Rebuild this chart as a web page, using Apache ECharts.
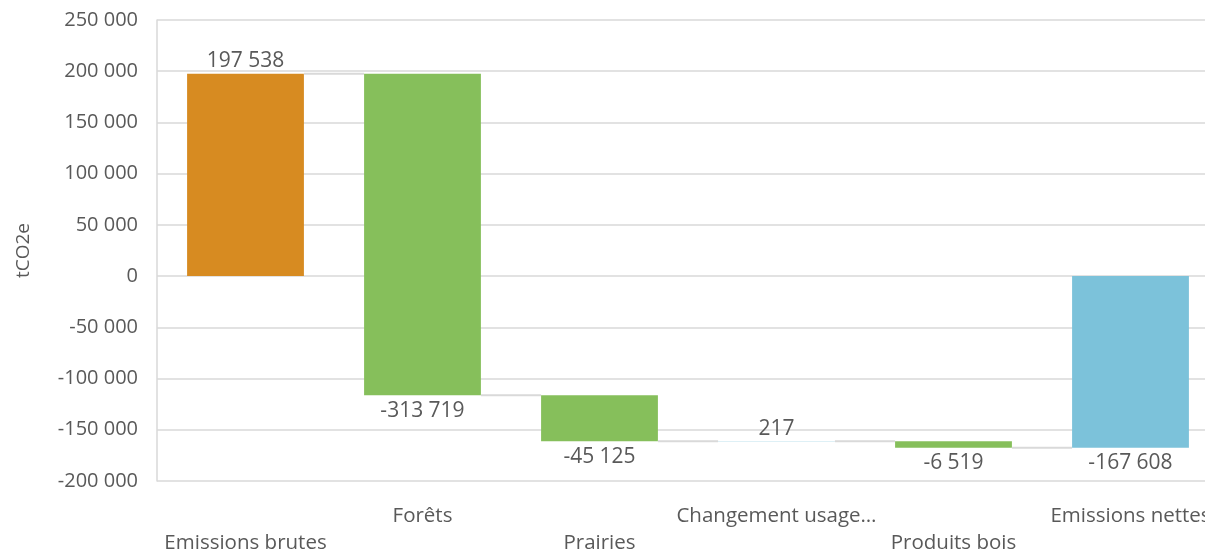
<!DOCTYPE html>
<html>
<head>
<meta charset="utf-8">
<script src="https://cdn.jsdelivr.net/npm/echarts@6/dist/echarts.min.js"></script>
<style>
  html, body { margin: 0; padding: 0; background: #fff; overflow: hidden; }
  #chart { width: 1205px; height: 555px; }
</style>
</head>
<body>
<div id="chart"></div>
<script>
// Bilan des émissions (tCO2e) : cascade des émissions brutes aux émissions nettes
const categories = ['Emissions brutes', 'Forêts', 'Prairies', 'Changement usage…', 'Produits bois', 'Emissions nettes'];
const values = [197538, -313719, -45125, 217, -6519, -167608];
const kinds = ['total', 'delta', 'delta', 'delta', 'delta', 'total'];
const yTicks = { min: -200000, max: 250000, interval: 50000 };

const FONT = '"Open Sans", Lato, sans-serif';
const TEXT = '#595959';
const GRID = '#d9d9d9';

// start / end of each step of the cascade
const steps = [];
let running = 0;
values.forEach((v, i) => {
  let start, end;
  if (kinds[i] === 'total') { start = 0; end = v; }
  else { start = running; end = running + v; }
  running = end;
  steps.push([i, start, end, v]);
});

function colorFor(i) {
  if (kinds[i] === 'total') return i === 0 ? '#d78b21' : '#7cc2da';
  return values[i] < 0 ? '#86bf5b' : '#7cc2da';
}

function fmt(n) {
  const s = Math.abs(Math.round(n)).toString().replace(/\B(?=(\d{3})+(?!\d))/g, ' ');
  return (n < 0 ? '-' : '') + s;
}

const chart = echarts.init(document.getElementById('chart'), null, { renderer: 'canvas' });

chart.setOption({
  animation: false,
  grid: { left: 157, right: -14, top: 20, bottom: 74, containLabel: false, outerBoundsMode: 'none' },
  xAxis: {
    type: 'category',
    data: categories,
    axisLine: { show: false },
    axisTick: { show: false },
    splitLine: { show: false },
    axisLabel: {
      interval: 0,
      margin: 22,
      color: TEXT,
      fontFamily: FONT,
      fontSize: 20.5,
      lineHeight: 27,
      formatter: (v, i) => (i % 2 === 0 ? '\n' + v : v)
    }
  },
  yAxis: {
    type: 'value',
    min: yTicks.min,
    max: yTicks.max,
    interval: yTicks.interval,
    name: 'tCO2e',
    nameLocation: 'middle',
    nameRotate: 90,
    nameGap: 124,
    nameTextStyle: { color: TEXT, fontFamily: FONT, fontSize: 19 },
    axisLine: { show: true, lineStyle: { color: GRID, width: 1.5 } },
    axisTick: { show: false },
    splitLine: { lineStyle: { color: GRID, width: 1.5 } },
    axisLabel: {
      margin: 19,
      color: TEXT,
      fontFamily: FONT,
      fontSize: 20,
      formatter: v => fmt(v)
    }
  },
  series: [{
    type: 'custom',
    data: steps,
    encode: { x: 0, y: [1, 2] },
    renderItem: function (params, api) {
      const i = api.value(0);
      const start = api.value(1);
      const end = api.value(2);
      const v = api.value(3);
      const catW = api.size([1, 0])[0];
      const bw = catW * 0.66;
      const pStart = api.coord([i, start]);
      const pEnd = api.coord([i, end]);
      const x0 = pStart[0] - bw / 2;
      const yTop = Math.min(pStart[1], pEnd[1]);
      const yBot = Math.max(pStart[1], pEnd[1]);
      const children = [{
        type: 'rect',
        shape: { x: x0, y: yTop, width: bw, height: Math.max(yBot - yTop, 0.3) },
        style: { fill: colorFor(i) }
      }];
      // value label: above the bar for rises, below it for falls
      const up = v >= 0;
      children.push({
        type: 'text',
        style: {
          text: fmt(v),
          x: pStart[0],
          y: up ? yTop - 2 : yBot + 5,
          align: 'center',
          verticalAlign: up ? 'bottom' : 'top',
          fill: TEXT,
          font: '21px ' + FONT
        }
      });
      // connector to the next bar at the running level
      if (i < steps.length - 1) {
        const yl = api.coord([i, end])[1];
        children.push({
          type: 'line',
          shape: { x1: x0 + bw, y1: yl, x2: x0 + catW, y2: yl },
          style: { stroke: GRID, lineWidth: 2 }
        });
      }
      return { type: 'group', children: children };
    }
  }]
});
</script>
</body>
</html>
